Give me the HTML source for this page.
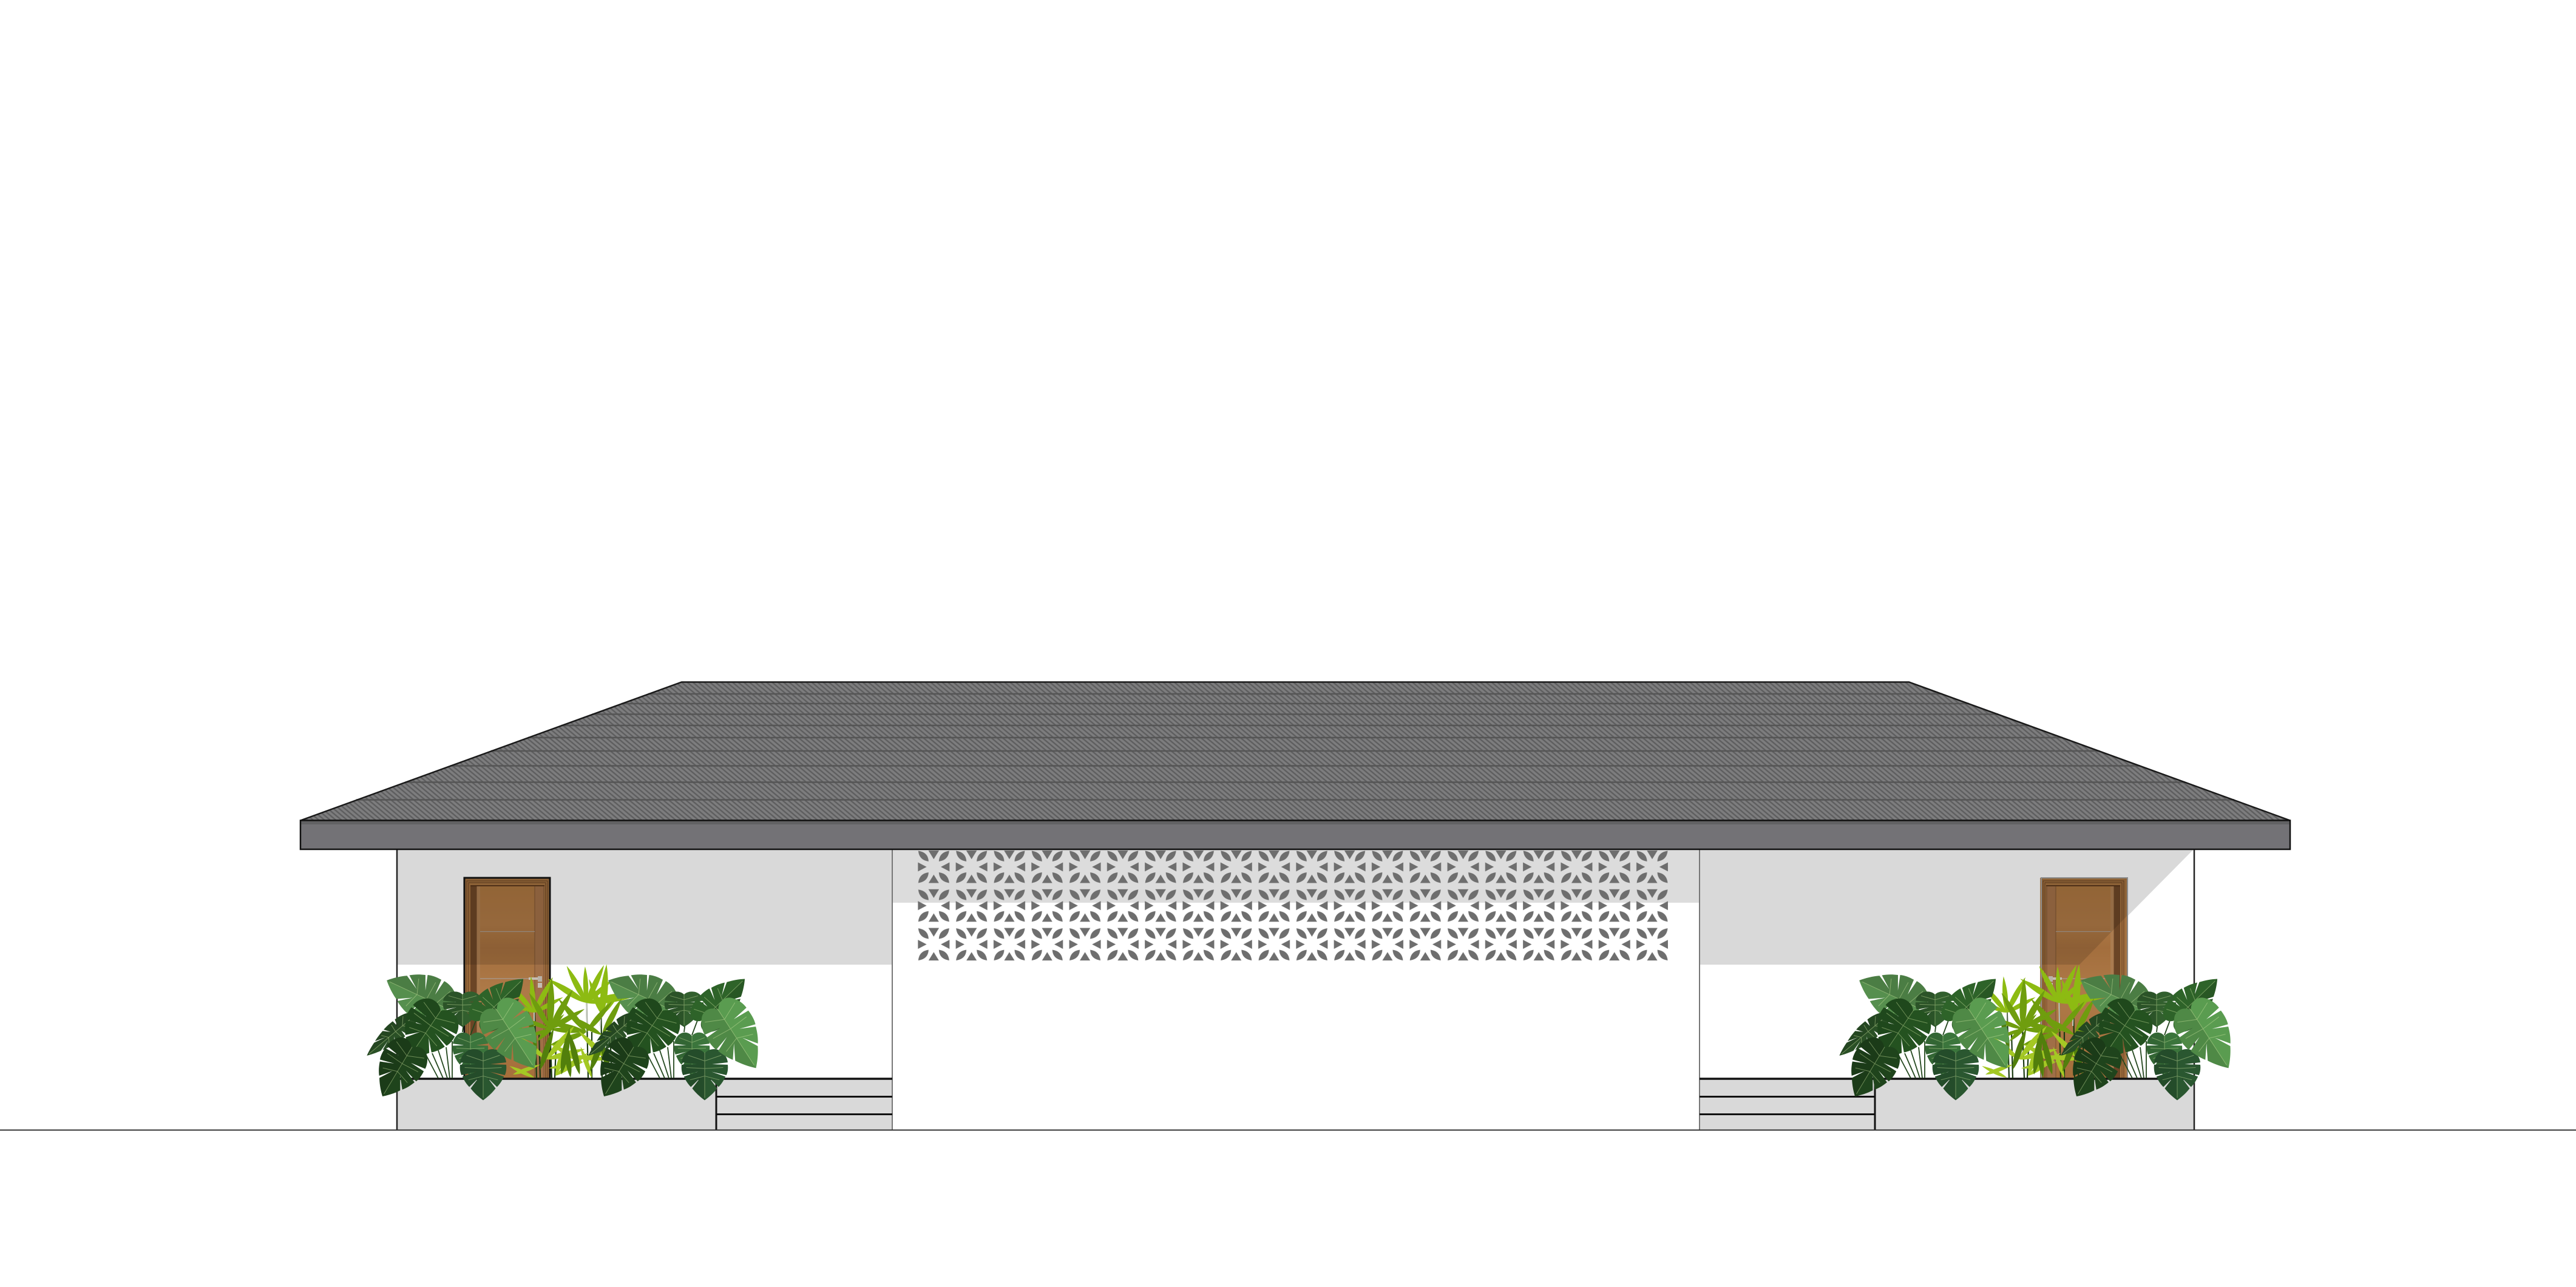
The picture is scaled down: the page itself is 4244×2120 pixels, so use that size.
<!DOCTYPE html>
<html><head><meta charset="utf-8"><title>Elevation</title>
<style>html,body{margin:0;padding:0;background:#fff}svg{display:block}</style></head>
<body>
<svg xmlns="http://www.w3.org/2000/svg" width="4244" height="2120" viewBox="0 0 4244 2120">
<defs>
<pattern id="tile" patternUnits="userSpaceOnUse" width="6" height="6" patternTransform="rotate(40)">
<rect width="6" height="6" fill="#7d7d7e"/><rect width="6" height="2.4" fill="#5e5e5f"/></pattern>
<pattern id="lat" patternUnits="userSpaceOnUse" width="62.3" height="63.8" patternTransform="translate(1507.2 1396.1)">
<g transform="translate(31.15 31.9)" fill="#6e6e6e">
<path d="M-26 -7.5L-26 7.5L-11.7 0Z"/><path d="M26 -7.5L26 7.5L11.7 0Z"/>
<path d="M-8.8 -27L8.8 -27L0 -12.7Z"/><path d="M-8.5 26.5L8.5 26.5L0 12.7Z"/>
<path d="M-25.5 -26.5Q-9 -24 -8.5 -9Q-24 -11 -25.5 -26.5Z"/><path d="M25.5 -26.5Q9 -24 8.5 -9Q24 -11 25.5 -26.5Z"/>
<path d="M-25.5 26.5Q-24 11 -8.5 9Q-9 24 -25.5 26.5Z"/><path d="M25.5 26.5Q24 11 8.5 9Q9 24 25.5 26.5Z"/>
</g></pattern>
<linearGradient id="wood" x1="0" y1="0" x2="0" y2="1">
<stop offset="0" stop-color="#a8743f"/><stop offset=".2" stop-color="#ad7845"/><stop offset=".32" stop-color="#a36e3d"/><stop offset=".55" stop-color="#ae7a48"/><stop offset=".8" stop-color="#a87340"/><stop offset="1" stop-color="#a66f3c"/></linearGradient>

<g id="leaf">
<path d="M0 4C8 -6 25 -8 36 0C44 6 49 14 50 23L16 27L50 28C51 36 50 44 47 50L15 43L45 53C41 62 36 69 30 75L10 56L27 78C20 87 10 96 0 103C-10 96 -20 87 -27 78L-10 56L-30 75C-36 69 -41 62 -45 53L-15 43L-47 50C-50 44 -51 36 -50 28L-16 27L-50 23C-49 14 -44 6 -36 0C-25 -8 -8 -6 0 4Z"/>
<path fill="#000" fill-opacity=".12" d="M0 4C-8 -6 -25 -8 -36 0C-44 6 -49 14 -50 23L-16 27L-50 28C-51 36 -50 44 -47 50L-15 43L-45 53C-41 62 -36 69 -30 75L-10 56L-27 78C-20 87 -10 96 0 103Z"/>
<path d="M0 2L0 98M0 20L-36 8M0 20L36 8M0 36L-40 34M0 36L40 34M0 52L-32 60M0 52L32 60" fill="none" stroke="#cfe6a0" stroke-opacity=".45" stroke-width="1" vector-effect="non-scaling-stroke"/>
</g>
<path id="b" d="M0 0C6 -15 5 -40 0 -60C-5 -40 -6 -15 0 0Z"/>

<g id="mon">
<g fill="none" stroke="#24481f" stroke-width="1.8">
<path d="M722 1776L702 1738M730 1776L712 1735M737 1776L722 1730M741 1776L735 1725M745 1776L745 1715M775 1705L790 1665M762 1700L767 1660"/>
</g>
<use href="#leaf" fill="#568f4e" transform="translate(738 1662) rotate(115) scale(.78 1.08)"/>
<use href="#leaf" fill="#325f2e" transform="translate(762 1636) scale(.64 .54)"/>
<use href="#leaf" fill="#2e6329" transform="translate(788 1684) rotate(226) scale(.62 1)"/>
<use href="#leaf" fill="#2a5026" transform="translate(677 1678) rotate(50) scale(.32 .92)"/>
<use href="#leaf" fill="#245220" transform="translate(728 1662) rotate(34) scale(.86 .92)"/>
<use href="#leaf" fill="#1f441c" transform="translate(680 1723) rotate(31) scale(.74 .94)"/>
<use href="#leaf" fill="#3b753c" transform="translate(775 1704) scale(.58 .66)"/>
<use href="#leaf" fill="#2a5730" transform="translate(796 1732) scale(.76 .78)"/>
</g>
<use id="monI" href="#leaf" fill="#5a9c50" transform="translate(816 1660) rotate(-33) scale(.82 1.15)"/>

<g id="door">
<rect x="764" y="1446" width="143" height="331" fill="#a3713f"/>
<path d="M769 1777V1451H902V1777M772 1777V1454H899V1777" fill="none" stroke="#6b4526" stroke-width="1.2"/>
<rect x="775" y="1458" width="122" height="319" fill="#a06c3e"/>
<rect x="775" y="1458" width="10.500" height="319" fill="#6b4526"/>
<rect x="775" y="1458" width="122" height="2.500" fill="#5a381c"/>
<rect x="785.500" y="1460" width="5.500" height="317" fill="#aa7c50"/>
<rect x="791" y="1460" width="90" height="317" fill="url(#wood)"/>
<rect x="881" y="1460" width="16" height="317" fill="#a06f47"/>
<path d="M881 1460V1777M896 1460V1777" stroke="#7a5230" stroke-width="1"/>
<path d="M791 1534.500H881M791 1612H881" stroke="#a79b90" stroke-width="1.200"/>
<rect x="871" y="1610" width="16" height="4" fill="#c5beb3"/><rect x="886" y="1608" width="7" height="9" fill="#b9b2a7"/>
<rect x="886" y="1619" width="7" height="8" fill="#c5beb3"/>
</g>

<g id="plants">
<g stroke="#1b3a12" stroke-width="2.2" fill="none">
<path d="M884 1776L880 1640M890 1776L888 1700M909 1776L905 1665M914 1776L916 1725M969 1776L966 1630M975 1776L975 1700M992 1776L990 1650M998 1776L1000 1715M1008 1776L1006 1725"/>
</g>
<path d="M880 1650L880 1690M966 1630L967 1690M990 1650L989 1690" stroke="#c6c9c0" stroke-width="2" fill="none"/>
<g fill="#8dbb12">
<use href="#b" transform="translate(880 1668) rotate(-40) scale(1)"/>
<use href="#b" transform="translate(880 1668) rotate(-68) scale(.85)"/>
<use href="#b" transform="translate(880 1668) rotate(-5) scale(1)"/>
<use href="#b" transform="translate(880 1668) rotate(28) scale(1.1)"/>
<use href="#b" transform="translate(880 1668) rotate(62) scale(.9)"/>
<use href="#b" transform="translate(966 1652) rotate(-58) scale(1.25)"/>
<use href="#b" transform="translate(966 1652) rotate(-28) scale(1.15)"/>
<use href="#b" transform="translate(966 1652) rotate(-2) scale(1)"/>
<use href="#b" transform="translate(966 1652) rotate(25) scale(1.15)"/>
<use href="#b" transform="translate(966 1652) rotate(80) scale(1.6)"/>
<use href="#b" transform="translate(966 1652) rotate(48) scale(.95)"/>
<use href="#b" transform="translate(992 1672) rotate(5) scale(1.4)"/>
<use href="#b" transform="translate(992 1672) rotate(35) scale(1)"/>
<use href="#b" transform="translate(992 1672) rotate(-20) scale(1.05)"/>
</g>
<g fill="#6f9d0e">
<use href="#b" transform="translate(906 1695) rotate(-30) scale(1.15)"/>
<use href="#b" transform="translate(906 1695) rotate(2) scale(1.4)"/>
<use href="#b" transform="translate(906 1695) rotate(30) scale(1.25)"/>
<use href="#b" transform="translate(906 1695) rotate(60) scale(1.1)"/>
<use href="#b" transform="translate(906 1695) rotate(95) scale(.95)"/>
<use href="#b" transform="translate(906 1695) rotate(-70) scale(.85)"/>
<use href="#b" transform="translate(906 1695) rotate(-110) scale(.7)"/>
<use href="#b" transform="translate(966 1700) rotate(-40) scale(1.2)"/>
<use href="#b" transform="translate(966 1700) rotate(-75) scale(1.1)"/>
<use href="#b" transform="translate(966 1700) rotate(40) scale(1.1)"/>
<use href="#b" transform="translate(966 1700) rotate(-110) scale(1.1)"/>
<use href="#b" transform="translate(992 1705) rotate(28) scale(1.15)"/>
<use href="#b" transform="translate(992 1705) rotate(65) scale(.95)"/>
<use href="#b" transform="translate(992 1705) rotate(-60) scale(1.1)"/>
<use href="#b" transform="translate(885 1715) rotate(-55) scale(.9)"/>
<use href="#b" transform="translate(885 1715) rotate(45) scale(1.05)"/>
</g>
<g fill="#a4c824">
<use href="#b" transform="translate(900 1745) rotate(-50) scale(1)"/>
<use href="#b" transform="translate(900 1745) rotate(40) scale(1.2)"/>
<use href="#b" transform="translate(900 1745) rotate(75) scale(1.1)"/>
<use href="#b" transform="translate(915 1772) rotate(20) scale(1.2)"/>
<use href="#b" transform="translate(915 1772) rotate(55) scale(1.1)"/>
<use href="#b" transform="translate(960 1750) rotate(-60) scale(1)"/>
<use href="#b" transform="translate(960 1750) rotate(-100) scale(.95)"/>
<use href="#b" transform="translate(960 1750) rotate(50) scale(.95)"/>
<use href="#b" transform="translate(1000 1745) rotate(-45) scale(1.1)"/>
<use href="#b" transform="translate(1000 1745) rotate(-85) scale(1)"/>
<use href="#b" transform="translate(845 1770) rotate(70) scale(.8)"/>
<use href="#b" transform="translate(880 1775) rotate(-65) scale(.75)"/>
<use href="#b" transform="translate(975 1775) rotate(-20) scale(.9)"/>
</g>
<g fill="#527f0c">
<use href="#b" transform="translate(884 1730) rotate(-12) scale(1.1)"/>
<use href="#b" transform="translate(890 1762) rotate(18) scale(1.2)"/>
<use href="#b" transform="translate(972 1765) rotate(22) scale(1.2)"/>
<use href="#b" transform="translate(1005 1770) rotate(-15) scale(1.1)"/>
<use href="#b" transform="translate(940 1775) rotate(-8) scale(1.1)"/>
<use href="#b" transform="translate(925 1770) rotate(10) scale(1.3)"/>
<use href="#b" transform="translate(955 1770) rotate(-14) scale(1.2)"/>
</g>
<use href="#mon"/>
<use href="#monI"/>
<use href="#mon" transform="translate(365 0)"/>
<use href="#monI" transform="translate(365 0)"/>
</g>
</defs>

<rect width="4244" height="2120" fill="#fff"/>

<!-- wall shadows -->
<rect x="654" y="1399" width="816" height="190" fill="#d9d9d9"/>
<rect x="1470" y="1399" width="1330" height="88" fill="#dcdcdc"/>
<polygon points="2800,1399 3614,1399 3426,1589 2800,1589" fill="#d9d9d9"/>

<!-- breeze block -->
<rect x="1512" y="1400" width="1236" height="184" fill="url(#lat)"/>

<!-- planters and steps -->
<rect x="654" y="1777" width="816" height="84" fill="#d9d9d9"/>
<rect x="2800" y="1777" width="815" height="84" fill="#d9d9d9"/>

<!-- doors -->
<use href="#door"/>
<use href="#door" transform="matrix(-1 0 0 1 4268 0)"/>
<rect x="764" y="1446" width="143" height="143" fill="#000" fill-opacity=".13"/>
<polygon points="3363,1446 3505,1446 3505,1508 3426,1589 3363,1589" fill="#000" fill-opacity=".13"/>
<path d="M765 1777V1446H906V1777" fill="none" stroke="#111" stroke-width="3"/>
<path d="M3363 1777V1446H3505V1777" fill="none" stroke="#8c8c8c" stroke-width="2"/>

<!-- lines -->
<g fill="none">
<path d="M1470 1399V1861M2800 1399V1861" stroke="#777" stroke-width="2"/>
<path d="M654 1399V1861M3615 1399V1861" stroke="#222" stroke-width="2.500"/>
<path d="M654 1777H1470M2800 1777H3615" stroke="#111" stroke-width="3.500"/>
<path d="M1180 1777V1861M3089 1777V1861" stroke="#111" stroke-width="3"/>
<path d="M1180 1806.500H1470M1180 1835.500H1470M2800 1806.500H3089M2800 1835.500H3089" stroke="#111" stroke-width="3"/>
<path d="M0 1861.500H4244" stroke="#333" stroke-width="2"/>
</g>

<!-- roof -->
<polygon points="495,1351.500 1123,1123.500 3145,1123.500 3773,1351.500" fill="url(#tile)"/>
<g stroke="#555" stroke-width="2.500" fill="none">
<path d="M1068 1143H3200M1024 1159H3244M976 1176.500H3292M925 1195H3343M870 1215H3398M809 1237H3459M742 1261.500H3526M668 1288.500H3600M587 1317.500H3681"/>
</g>
<polygon points="495,1351.500 1123,1123.500 3145,1123.500 3773,1351.500" fill="none" stroke="#1a1a1a" stroke-width="2.500"/>
<rect x="495" y="1351.500" width="3278" height="47.500" fill="#737276"/>
<rect x="496" y="1353" width="3276" height="5" fill="#626264"/>
<rect x="495" y="1351.500" width="3278" height="47.500" fill="none" stroke="#111" stroke-width="2.500"/>

<!-- plants -->
<use href="#plants"/>
<use href="#plants" transform="translate(2426 0)"/>
</svg>
</body></html>
